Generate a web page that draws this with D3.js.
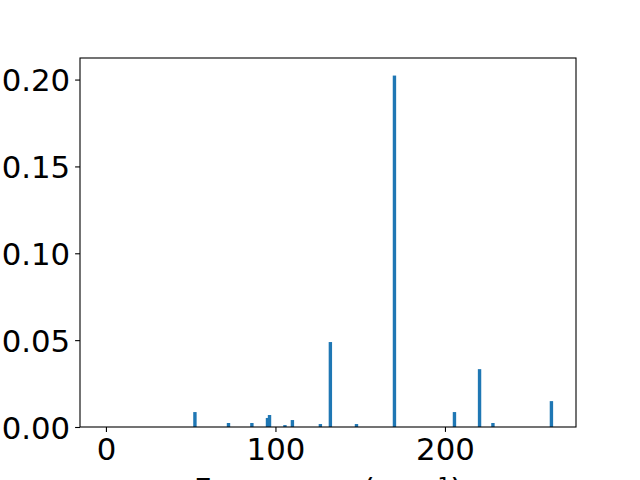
<!DOCTYPE html>
<html>
<head>
<meta charset="utf-8">
<script src="https://cdn.jsdelivr.net/npm/d3@7"></script>
<style>
	body { margin: 0; background: #fff; }
	svg { display: block; }
	.tick text { font-family: "DejaVu Sans", sans-serif; }
</style>
</head>
<body>
<script>
// frequencies (cm^-1) and intensities
var freqs = [52.5, 72.3, 86.1, 95.3, 96.5, 105.6, 110.0, 126.5, 132.4, 147.8, 170.2, 205.6, 220.4, 228.3, 262.8];
var intensities = [0.0086, 0.0023, 0.0023, 0.0052, 0.0069, 0.0011, 0.0040, 0.0017, 0.0489, 0.0017, 0.2023, 0.0086, 0.0333, 0.0023, 0.0149];
var xTicks = [0, 100, 200];
var yTicks = [0, 0.05, 0.10, 0.15, 0.20];

var width = 640;
var height = 480;
var margin = {left: 80, right: 64, top: 58, bottom: 53};
var barWidth = 2;
var fontSize = 30.8;

var svg = d3.select("body").append("svg")
	.attr("width", width)
	.attr("height", height);

var plotW = width - margin.left - margin.right;
var plotH = height - margin.top - margin.bottom;

var x = d3.scaleLinear()
	.domain([-15.3, 277.3])
	.range([0, plotW]);

var y = d3.scaleLinear()
	.domain([0, d3.max(intensities) * 1.05])
	.range([plotH, 0]);

var g = svg.append("g")
	.attr("transform", "translate(" + margin.left + "," + margin.top + ")");

g.selectAll("rect.bar")
	.data(freqs)
	.enter().append("rect")
		.attr("class", "bar")
		.attr("x", function(d) { return x(d - barWidth / 2); })
		.attr("width", function(d) { return x(d + barWidth / 2) - x(d - barWidth / 2); })
		.attr("y", function(d, i) { return y(intensities[i]); })
		.attr("height", function(d, i) { return plotH - y(intensities[i]); })
		.attr("fill", "#1f77b4");

/* axes */
var xAxis = g.append("g")
	.attr("transform", "translate(0," + plotH + ")")
	.call(d3.axisBottom(x).tickValues(xTicks).tickSize(4.9).tickPadding(4.9).tickFormat(d3.format("d")));

var yAxis = g.append("g")
	.call(d3.axisLeft(y).tickValues(yTicks).tickSize(4.9).tickPadding(4.9).tickFormat(d3.format(".2f")));

[xAxis, yAxis].forEach(function(a) {
	a.select(".domain").remove();
	a.selectAll(".tick line").attr("stroke", "#000").attr("stroke-width", 1.1);
	a.selectAll(".tick text")
		.attr("fill", "#000")
		.style("font-size", fontSize + "px");
});
yAxis.selectAll(".tick text").attr("dy", "0.36em");
xAxis.selectAll(".tick text").attr("dy", "0.76em");

// frame
g.append("rect")
	.attr("width", plotW)
	.attr("height", plotH)
	.attr("fill", "none")
	.attr("stroke", "#000")
	.attr("stroke-width", 1.1);

// x label (partly cut off by the bottom edge, as in the reference)
svg.append("text")
	.attr("x", margin.left + plotW / 2)
	.attr("y", 477)
	.attr("dy", "0.76em")
	.attr("text-anchor", "middle")
	.style("font-family", "DejaVu Sans, sans-serif")
	.style("font-size", fontSize + "px")
	.text("Frequency (cm\u207B\u00B9)");
</script>
</body>
</html>
